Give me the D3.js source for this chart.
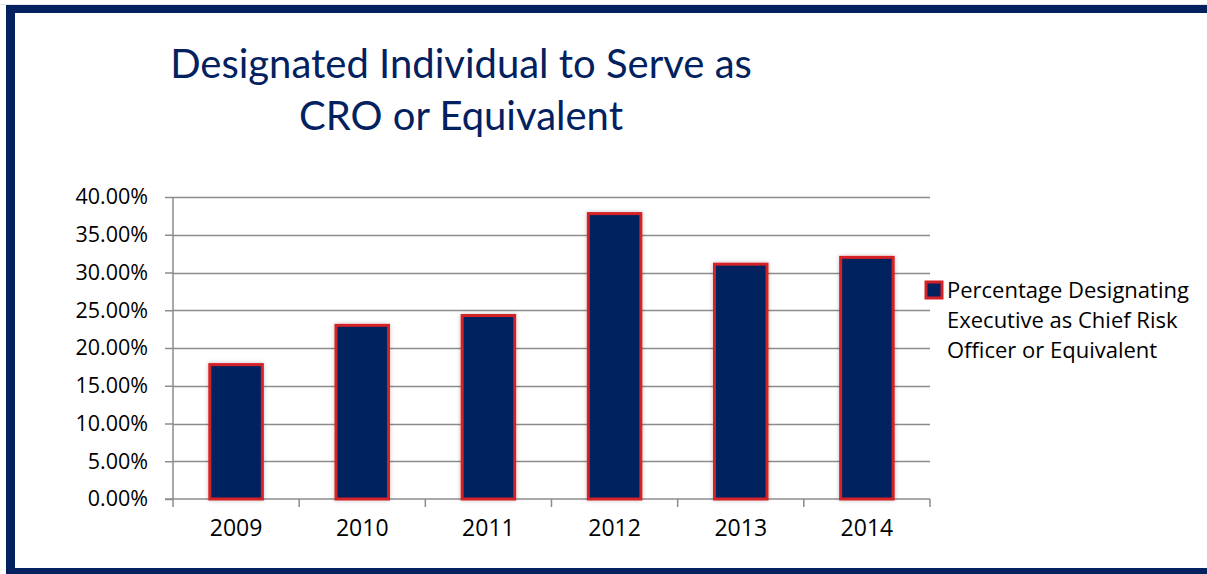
<!DOCTYPE html>
<html>
<head>
  <meta charset="utf-8">
  <script src="https://d3js.org/d3.v7.min.js"></script>
  <style>
    body { margin: 0; background: #fff; }
  </style>
</head>
<body>
<div id="vis"></div>
<script>
  // values
  var years = ['2009', '2010', '2011', '2012', '2013', '2014'];
  var percentages = [0.180, 0.232, 0.245, 0.380, 0.313, 0.322];
  var yTicks = [0, 0.05, 0.10, 0.15, 0.20, 0.25, 0.30, 0.35, 0.40];
  var titleLines = ['Designated Individual to Serve as', 'CRO or Equivalent'];
  var legendLines = ['Percentage Designating', 'Executive as Chief Risk', 'Officer or Equivalent'];

  var width = 1207, height = 574;
  var navy = '#03215f', red = '#d42027';
  var plot = { left: 173, right: 930, top: 197, bottom: 499 };
  var labelFont = '"Open Sans", sans-serif';

  var svg = d3.select('#vis')
    .append('svg')
    .attr('width', width)
    .attr('height', height);

  // frame
  svg.append('rect').attr('x', 0).attr('y', 0).attr('width', width).attr('height', height).attr('fill', '#fff');
  svg.append('rect').attr('x', 0).attr('y', 4).attr('width', width).attr('height', 1).attr('fill', '#e4e6ec');
  svg.append('rect').attr('x', 6).attr('y', 5).attr('width', width - 6).attr('height', 8).attr('fill', navy);
  svg.append('rect').attr('x', 6).attr('y', 5).attr('width', 9).attr('height', height - 5).attr('fill', navy);
  svg.append('rect').attr('x', 6).attr('y', 568).attr('width', width - 6).attr('height', 6).attr('fill', navy);

  // title
  var title = svg.append('text')
    .attr('text-anchor', 'middle')
    .attr('fill', navy)
    .style('font-family', 'Lato, "Open Sans", sans-serif')
    .style('font-size', '40px');
  title.selectAll('tspan')
    .data(titleLines)
    .enter()
    .append('tspan')
    .attr('x', 461)
    .attr('y', (d, i) => 78 + i * 52)
    .text(d => d);

  var x = d3.scaleBand()
    .domain(years)
    .range([plot.left, plot.right])
    .paddingInner(0.56)
    .paddingOuter(0.28);

  var y = d3.scaleLinear()
    .domain([0, 0.40])
    .range([plot.bottom, plot.top]);

  // gridlines
  svg.append('g')
    .selectAll('line')
    .data(yTicks.slice(1))
    .enter()
    .append('line')
    .attr('x1', plot.left)
    .attr('x2', plot.right)
    .attr('y1', d => Math.round(y(d)) + 0.5)
    .attr('y2', d => Math.round(y(d)) + 0.5)
    .attr('stroke', '#8c8c8c')
    .attr('stroke-width', 1.5);

  // y axis
  var yAxis = svg.append('g')
    .attr('transform', 'translate(' + plot.left + ',0)')
    .call(d3.axisLeft(y).tickValues(yTicks).tickFormat(d3.format('.2%')).tickSize(8).tickPadding(17));
  yAxis.select('.domain').remove();
  yAxis.append('line')
    .attr('x1', 0).attr('x2', 0)
    .attr('y1', plot.top).attr('y2', plot.bottom)
    .attr('stroke', '#8c8c8c').attr('stroke-width', 1.5);
  yAxis.selectAll('.tick line').attr('stroke', '#8c8c8c').attr('stroke-width', 1.5);
  yAxis.selectAll('.tick text')
    .attr('fill', '#000')
    .style('font-family', labelFont)
    .style('font-size', '21.5px');

  // x axis with ticks between categories
  var xAxis = svg.append('g')
    .attr('transform', 'translate(0,' + plot.bottom + ')');
  xAxis.append('line')
    .attr('x1', plot.left - 8).attr('x2', plot.right)
    .attr('y1', 0).attr('y2', 0)
    .attr('stroke', '#8c8c8c').attr('stroke-width', 1.5);
  var step = x.step();
  xAxis.selectAll('line.tk')
    .data(d3.range(years.length + 1))
    .enter()
    .append('line')
    .attr('class', 'tk')
    .attr('x1', i => plot.left + i * step)
    .attr('x2', i => plot.left + i * step)
    .attr('y1', 0).attr('y2', 8)
    .attr('stroke', '#8c8c8c').attr('stroke-width', 1.5);
  xAxis.selectAll('text')
    .data(years)
    .enter()
    .append('text')
    .attr('x', d => x(d) + x.bandwidth() / 2)
    .attr('y', 37)
    .attr('text-anchor', 'middle')
    .attr('fill', '#000')
    .style('font-family', labelFont)
    .style('font-size', '23px')
    .text(d => d);

  // shadow filter for bars
  var defs = svg.append('defs');
  var f = defs.append('filter').attr('id', 'sh').attr('x', '-20%').attr('y', '-20%').attr('width', '140%').attr('height', '140%');
  f.append('feDropShadow').attr('dx', 0).attr('dy', 0).attr('stdDeviation', 2).attr('flood-color', '#000').attr('flood-opacity', 0.25);

  // bars
  svg.append('g')
    .selectAll('rect')
    .data(percentages)
    .enter()
    .append('rect')
    .attr('x', (d, i) => x(years[i]) + 1.5)
    .attr('width', x.bandwidth() - 3)
    .attr('y', d => y(d) + 1.5)
    .attr('height', d => plot.bottom - y(d) - 1.5)
    .attr('fill', navy)
    .attr('stroke', red)
    .attr('stroke-width', 3)
    .attr('filter', 'url(#sh)');

  // legend
  var legend = svg.append('g');
  legend.append('rect')
    .attr('x', 926).attr('y', 282)
    .attr('width', 16).attr('height', 16)
    .attr('fill', navy)
    .attr('stroke', red)
    .attr('stroke-width', 3);
  legend.append('text')
    .attr('fill', '#000')
    .style('font-family', labelFont)
    .style('font-size', '22px')
    .selectAll('tspan')
    .data(legendLines)
    .enter()
    .append('tspan')
    .attr('x', 947)
    .attr('y', (d, i) => 298 + i * 30)
    .text(d => d);
</script>
</body>
</html>
